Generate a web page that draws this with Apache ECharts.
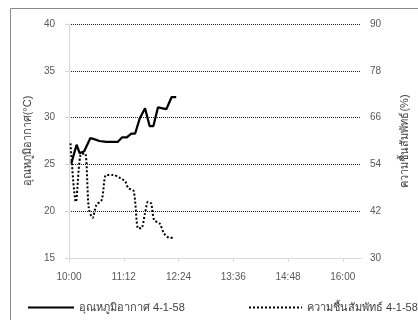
<!DOCTYPE html>
<html><head><meta charset="utf-8">
<script src="https://cdn.jsdelivr.net/npm/echarts@6/dist/echarts.min.js"></script>
<style>html,body{margin:0;padding:0;background:#fff}#c{width:418px;height:320px}</style>
</head><body><div id="c"></div>
<script>
// time in minutes since midnight
const tempTimes = [603, 610, 614, 620, 628, 633, 640, 649, 664, 670, 676, 682, 687, 693, 700, 706, 711, 717, 728, 735, 741];
const tempValues = [25.1, 27.1, 26.2, 26.4, 27.8, 27.7, 27.5, 27.4, 27.4, 27.9, 27.9, 28.3, 28.3, 29.9, 31.0, 29.1, 29.1, 31.1, 30.9, 32.2, 32.2];
const humTimes = [602, 609, 615, 621, 626, 631, 636, 643, 649, 658, 668, 674, 678, 685, 691, 695, 700, 704, 708, 712, 719, 725, 732, 738];
const humValues = [59.4, 44.4, 56.4, 56.8, 42.8, 40.3, 43.6, 44.9, 51.3, 51.3, 50.4, 49.6, 47.9, 47.2, 37.6, 37.6, 41.5, 44.4, 44.0, 39.7, 38.9, 36.3, 35.2, 35.2];
const tempName = 'อุณหภูมิอากาศ 4-1-58';
const humName = 'ความชื้นสัมพัทธ์ 4-1-58';
const leftTitle = 'อุณหภูมิอากาศ(°C)';
const rightTitle = 'ความชื้นสัมพัทธ์(%)';

const FONT = '"Liberation Sans", Arial, sans-serif';
const chart = echarts.init(document.getElementById('c'), null, {renderer: 'canvas'});
const fmt = v => {
  if ((v - 600) % 72 !== 0) return '';
  const h = Math.floor(v / 60), m = v % 60;
  return h + ':' + (m < 10 ? '0' : '') + m;
};
const legendBase = {padding: 0, itemHeight: 10, itemGap: 5, itemStyle: {opacity: 0}, textStyle: {fontSize: 11, color: '#404040', fontFamily: FONT}};
chart.setOption({
  animation: false,
  backgroundColor: '#fff',
  textStyle: {fontFamily: FONT},
  graphic: [{type: 'rect', shape: {x: 10.5, y: 8.5, width: 420, height: 330}, style: {fill: 'none', stroke: '#898989', lineWidth: 1}, z: -1}],
  grid: {left: 69, right: 49, top: 24, bottom: 62},
  legend: [
    Object.assign({data: [tempName], left: 27, top: 302, itemWidth: 46}, legendBase),
    Object.assign({data: [humName], left: 248, top: 302, itemWidth: 53}, legendBase)
  ],
  xAxis: {
    type: 'value', min: 600, max: 984, interval: 72,
    axisLine: {lineStyle: {color: '#d9d9d9'}},
    axisTick: {show: true, length: 4, lineStyle: {color: '#d9d9d9'}},
    axisLabel: {formatter: fmt, color: '#595959', fontSize: 10, margin: 14, showMaxLabel: false},
    splitLine: {show: false}
  },
  yAxis: [
    {
      type: 'value', min: 15, max: 40, interval: 5, position: 'left',
      name: leftTitle, nameLocation: 'middle', nameGap: 35, nameRotate: 90,
      nameTextStyle: {fontSize: 11, color: '#404040', fontFamily: FONT},
      axisLine: {show: true, lineStyle: {color: '#d9d9d9'}},
      axisTick: {show: true, length: 4, lineStyle: {color: '#d9d9d9'}},
      axisLabel: {color: '#595959', fontSize: 10, margin: 14},
      splitLine: {show: true, showMinLine: false, lineStyle: {color: '#222', type: [1, 1], width: 1}}
    },
    {
      type: 'value', min: 30, max: 90, interval: 12, position: 'right',
      name: rightTitle, nameLocation: 'middle', nameGap: 38, nameRotate: 90,
      nameTextStyle: {fontSize: 11, color: '#404040', fontFamily: FONT},
      axisLine: {show: false},
      axisTick: {show: false},
      axisLabel: {color: '#595959', fontSize: 10, margin: 9},
      splitLine: {show: false}
    }
  ],
  series: [
    {
      name: tempName, type: 'line', yAxisIndex: 0, symbol: 'none', showSymbol: false,
      data: tempTimes.map((t, i) => [t, tempValues[i]]),
      lineStyle: {color: '#000', width: 2.25, type: 'solid'}, itemStyle: {color: '#000'}, z: 3
    },
    {
      name: humName, type: 'line', yAxisIndex: 1, symbol: 'none', showSymbol: false, smooth: 0.3,
      data: humTimes.map((t, i) => [t, humValues[i]]),
      lineStyle: {color: '#000', width: 2, type: [2, 2], cap: 'butt'}, itemStyle: {color: '#000'}, z: 2
    }
  ]
});
</script></body></html>
